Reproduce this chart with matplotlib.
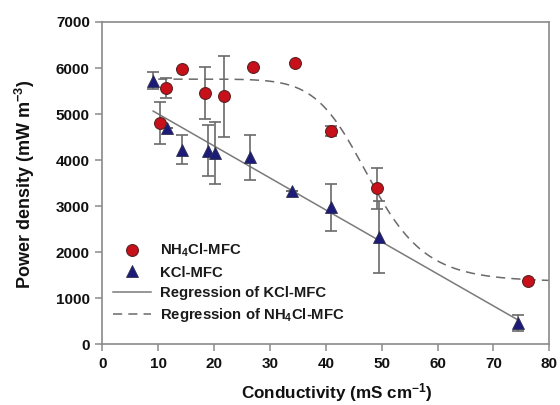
import numpy as np
import matplotlib
matplotlib.use("Agg")
import matplotlib.pyplot as plt
from matplotlib.lines import Line2D

plt.rcParams['font.family'] = ['Liberation Sans', 'DejaVu Sans']
plt.rcParams['mathtext.fontset'] = 'custom'
plt.rcParams['mathtext.rm'] = 'Liberation Sans:bold'
plt.rcParams['mathtext.bf'] = 'Liberation Sans:bold'
plt.rcParams['mathtext.it'] = 'Liberation Sans:bold'

# NH4Cl-MFC data
nh4_x = [10.3, 11.4, 14.3, 18.3, 21.8, 27.0, 34.5, 41.0, 49.2, 76.1]
nh4_y = [4810, 5570, 5990, 5450, 5390, 6020, 6110, 4630, 3390, 1380]
nh4_err = [450, 210, 0, 565, 880, 0, 0, 110, 445, 0]

# KCl-MFC data
kcl_x = [9.1, 11.5, 14.3, 19.0, 20.2, 26.5, 33.9, 41.0, 49.55, 74.4]
kcl_y = [5728, 4700, 4228, 4207, 4163, 4061, 3322, 2974, 2330, 474]
kcl_err = [180, 0, 310, 550, 670, 490, 0, 500, 785, 175]

# Sigmoid regression parameters
sig_top = 5760
sig_bottom = 1360
sig_x0 = 48.0
sig_n = 9.7
sig_range = [10.0, 80.0]

x_ticks = [0, 10, 20, 30, 40, 50, 60, 70, 80]
y_ticks = [0, 1000, 2000, 3000, 4000, 5000, 6000, 7000]

fig = plt.figure(figsize=(5.6, 4.05), dpi=100)
ax = fig.add_axes([0.1827, 0.1494, 0.981 - 0.1827, 0.9457 - 0.1494])

frame_col = '#8a8a8a'
err_col = '#6a6a6a'
red = '#c8101a'
navy = '#1c1c78'

# Regression lines
coef = np.polyfit(kcl_x, kcl_y, 1)
lx = np.array([min(kcl_x), max(kcl_x)])
ax.plot(lx, np.polyval(coef, lx), color='#7a7a7a', lw=1.1, zorder=2)

sx = np.linspace(sig_range[0], sig_range[1], 300)
sy = sig_bottom + (sig_top - sig_bottom) / (1 + (sx / sig_x0) ** sig_n)
ax.plot(sx, sy, color='#6a6a6a', lw=1.1, dashes=(6, 4), zorder=2)

# Error bars
ax.errorbar(nh4_x, nh4_y, yerr=nh4_err, fmt='none', ecolor=err_col,
            elinewidth=1.2, capsize=4, capthick=1.2, zorder=3)
ax.errorbar(kcl_x, kcl_y, yerr=kcl_err, fmt='none', ecolor=err_col,
            elinewidth=1.2, capsize=4, capthick=1.2, zorder=3)

ax.plot(nh4_x, nh4_y, 'o', ms=8.5, mfc=red, mec='#5a2020', mew=0.8, zorder=4)
ax.plot(kcl_x, kcl_y, '^', ms=8.5, mfc=navy, mec='#303050', mew=0.6, zorder=4)

ax.set_xlim(0, 80)
ax.set_ylim(0, 7000)
ax.set_xticks(x_ticks)
ax.set_yticks(y_ticks)
for s in ax.spines.values():
    s.set_color(frame_col)
    s.set_linewidth(1.2)
ax.tick_params(direction='out', length=5, width=1.1, color=frame_col,
               labelsize=11, labelcolor='#111111', pad=4)
for lab in ax.get_xticklabels() + ax.get_yticklabels():
    lab.set_fontweight('bold')

ax.set_xlabel('Conductivity (mS cm$^{-1}$)', fontsize=12.3, fontweight='bold',
              color='#111111')
ax.xaxis.set_label_coords(0.525, -0.112)
ax.set_ylabel('Power density (mW m$^{-3}$)', fontsize=13, fontweight='bold',
              color='#111111')
ax.yaxis.set_label_coords(-0.146, 0.495)

handles = [
    Line2D([], [], ls='none', marker='o', ms=8.5, mfc=red, mec='#5a2020', mew=0.8),
    Line2D([], [], ls='none', marker='^', ms=8.5, mfc=navy, mec='#303050', mew=0.6),
    Line2D([], [], color='#7a7a7a', lw=1.1),
    Line2D([], [], color='#6a6a6a', lw=1.1, dashes=(6, 4)),
]
labels = ['NH$_4$Cl-MFC', 'KCl-MFC', 'Regression of KCl-MFC',
          'Regression of NH$_4$Cl-MFC']
leg = ax.legend(handles, labels, loc='upper left', bbox_to_anchor=(0.0, 0.35),
                frameon=False, prop={'size': 10.7, 'weight': 'bold'},
                handlelength=2.6, handletextpad=0.6, labelspacing=0.42,
                borderaxespad=0.3)
for t in leg.get_texts():
    t.set_color('#1a1a1a')

fig.savefig('out.png', dpi=100)
